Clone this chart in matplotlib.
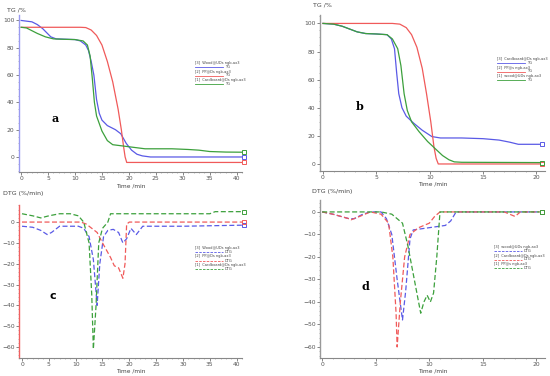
import matplotlib
matplotlib.use("Agg")
import matplotlib.pyplot as plt
from matplotlib.lines import Line2D

W, H = 550, 376

# ---------------- data ----------------
# Panel a (TG, 0-41 min)
a_wood_t = [0, 1, 2, 3, 4, 4.5, 5.5, 6.5, 8, 10, 11, 12, 12.5, 13, 13.5, 14, 14.5, 15, 16, 17.5, 18.5, 19.5, 20.5, 21.5, 22.5, 24, 30, 41]
a_wood_v = [100, 99.5, 99, 97, 94, 92, 88, 86.5, 86.3, 86, 85, 82, 78, 70, 60, 42, 32, 27, 23, 20, 17, 10, 5, 2, 0.8, 0, 0, 0]
a_pp_t = [0, 5, 11, 12, 13, 14, 15, 16, 17, 18, 18.6, 19, 19.3, 19.6, 25, 41]
a_pp_v = [95, 95, 95, 94.8, 93, 89, 82, 70, 55, 35, 20, 8, 0, -4, -4, -4]
a_card_t = [0, 1, 2, 3, 4.5, 6, 8, 10, 11.5, 12.3, 12.8, 13.2, 13.6, 14, 15, 16, 17, 19, 21, 23, 28, 31, 33, 35, 38, 41]
a_card_v = [95, 94.5, 92.5, 90.5, 88, 86.5, 86.2, 86, 85, 82, 74, 58, 40, 30, 19, 12, 9, 8, 7, 6, 6, 5.5, 5, 4, 3.6, 3.5]

# Panel b (TG, 0-20.3 min)
b_card_t = [0, 1, 1.8, 2.5, 3.2, 4, 5, 6, 6.4, 6.7, 6.9, 7.1, 7.4, 7.8, 8.5, 9.3, 10.2, 11, 13, 15, 16.5, 17.5, 18.3, 19, 20.3]
b_card_v = [100, 99.5, 98, 96, 94, 92.8, 92.5, 92, 89, 82, 65, 50, 40, 34, 29, 24, 19.5, 18.5, 18.5, 18, 17, 15.5, 14, 14, 14]
b_pp_t = [0, 5, 6.5, 7.2, 7.8, 8.3, 8.8, 9.3, 9.7, 10.1, 10.4, 10.6, 10.8, 15, 20.3]
b_pp_v = [100, 100, 100, 99.5, 97, 92, 83, 68, 50, 30, 12, 4, 0, 0, 0]
b_wood_t = [0, 1, 1.8, 2.5, 3.2, 4, 5, 6, 6.5, 7, 7.3, 7.6, 7.9, 8.3, 9, 9.8, 10.5, 11.2, 11.8, 12.3, 13, 20.3]
b_wood_v = [100, 99.5, 98, 96, 94, 92.8, 92.5, 92, 89, 82, 70, 50, 38, 30, 23, 16, 11, 6, 3, 1.5, 1.2, 1]

# Panel c (DTG, 0-41 min)
c_wood_t = [0, 2, 3.5, 4.7, 5.5, 7, 10.5, 11.5, 12.5, 13.3, 14, 14.5, 15.2, 16, 17, 18, 18.8, 19.5, 20.3, 21.3, 22.5, 30, 41]
c_wood_v = [-2, -2.5, -4, -6, -5, -2, -2, -3, -7, -18, -40, -20, -7, -4, -3.5, -5, -10, -8, -3, -6, -2, -2, -1.5]
c_pp_t = [0, 11, 12, 13, 14, 15, 16.5, 17.2, 18, 18.8, 19.2, 19.5, 20, 30, 41]
c_pp_v = [0, 0, -1, -3, -5, -10, -17, -21, -22, -27, -20, -1, 0, 0, 0]
c_card_t = [0, 2, 3.5, 5, 7, 9, 10.5, 11.5, 12.5, 13, 13.3, 13.8, 14.3, 15, 16, 16.5, 20, 30, 35, 36, 41]
c_card_v = [4, 3, 2, 3, 4, 4, 3, 0, -10, -35, -61, -40, -10, -3, 0, 4, 4, 4, 4, 5, 5]

# Panel d (DTG, 0-20.3 min)
d_wood_t = [0, 1, 2.5, 3, 3.8, 4.5, 5.5, 6, 6.5, 7, 7.5, 7.8, 8.2, 8.5, 10, 11.5, 12, 12.5, 20.3]
d_wood_v = [0, -1, -3, -3, -1, 0, 0, -3, -10, -30, -48, -35, -12, -8, -7, -6, -4, 0, 0]
d_card_t = [0, 1, 2.5, 2.7, 3.5, 4.5, 5.5, 6.2, 6.6, 6.9, 7.0, 7.3, 7.7, 8.2, 9, 10, 10.5, 11, 17, 18, 18.5, 20.3]
d_card_v = [0, -1, -3, -3.5, -2, 0, -1, -5, -20, -45, -60, -40, -20, -10, -7, -5, -2, 0, 0, -2, 0, 0]
d_pp_t = [0, 5.5, 6.5, 7.5, 8, 8.6, 9.2, 9.5, 9.8, 10.1, 10.4, 10.7, 11, 20.3]
d_pp_v = [0, 0, -1, -5, -15, -30, -45, -40, -37, -40, -36, -20, 0, 0]

BLUE = "#5a5ae6"
RED = "#f05a5a"
GREEN = "#3ca03c"

fig = plt.figure(figsize=(5.5, 3.76), dpi=100)
fig.patch.set_facecolor("white")


def make_ax(l, r, t, b, xlim, ylim, xt, yt, spine_col):
    ax = fig.add_axes([l / W, 1 - b / H, (r - l) / W, (b - t) / H])
    ax.set_xlim(*xlim)
    ax.set_ylim(*ylim)
    ax.set_xticks(xt)
    ax.set_yticks(yt)
    for s in ["top", "right"]:
        ax.spines[s].set_visible(False)
    ax.spines["left"].set_color(spine_col)
    ax.spines["bottom"].set_color("#888888")
    ax.spines["left"].set_linewidth(1.0)
    ax.spines["bottom"].set_linewidth(0.8)
    ax.tick_params(labelsize=4.3, length=2, width=0.5, colors="#555555", pad=1.2)
    ax.minorticks_on()
    ax.tick_params(which="minor", length=1, width=0.4, colors="#888888")
    return ax


def fig_text(x, y, s, **kw):
    fig.text(x / W, 1 - y / H, s, **kw)


def legend(x, y, entries, label, ls):
    for i, (name, col) in enumerate(entries):
        yy = y + i * 8.5
        fig_text(x, yy, name, fontsize=2.6, color="#444444", va="center")
        fig.add_artist(Line2D([x / W, (x + 28) / W], [1 - (yy + 4) / H] * 2, color=col,
                              lw=0.6, ls=ls, transform=fig.transFigure))
        fig_text(x + 30, yy + 4, label, fontsize=2.6, color="#444444", va="center")


def end_marker(ax, t, v, col):
    ax.plot([t[-1] + 0.01 * (ax.get_xlim()[1])], [v[-1]], marker="s", ms=3, mfc="none",
            mec=col, mew=0.7, clip_on=False)


# ---- panel a ----
ax = make_ax(19, 242, 15, 172, (-0.4, 41), (-11, 104), range(0, 41, 5), range(0, 101, 20), "#9a9af0")
for t, v, c in [(a_wood_t, a_wood_v, BLUE), (a_pp_t, a_pp_v, RED), (a_card_t, a_card_v, GREEN)]:
    ax.plot(t, v, color=c, lw=0.9)
    end_marker(ax, t, v, c)
fig_text(7, 10, "TG /%", fontsize=4.5, color="#444444", va="center")
fig_text(131, 185.5, "Time /min", fontsize=4.2, color="#444444", ha="center", va="center")
fig_text(55, 118, "a", fontsize=8, family="DejaVu Serif", weight="bold", ha="center", va="center")
legend(195, 63, [("[3]  Wood@UDs ngb-ax3", BLUE), ("[2]  PP@Ds ngb-ax3", RED),
                 ("[1]  Cardboard@Ds ngb-ax3", GREEN)], "TG", "-")

# ---- panel b ----
ax = make_ax(320, 545, 15, 171, (-0.28, 20.8), (-5, 106), range(0, 21, 5), range(0, 101, 20), "#999999")
for t, v, c in [(b_card_t, b_card_v, BLUE), (b_pp_t, b_pp_v, RED), (b_wood_t, b_wood_v, GREEN)]:
    ax.plot(t, v, color=c, lw=0.9)
    end_marker(ax, t, v, c)
fig_text(313, 5, "TG /%", fontsize=4.5, color="#444444", va="center")
fig_text(433, 184.5, "Time /min", fontsize=4.2, color="#444444", ha="center", va="center")
fig_text(360, 106, "b", fontsize=8, family="DejaVu Serif", weight="bold", ha="center", va="center")
legend(497, 59, [("[3]  Cardboard@Ds ngb-ax3", BLUE), ("[2]  PP@s ngb-ax3", RED),
                 ("[1]  wood@UDs ngb-ax3", GREEN)], "TG", "-")

# ---- panel c ----
ax = make_ax(19, 242, 205, 358, (-0.56, 41), (-65.3, 8.2), range(0, 41, 5), range(-60, 1, 10), "#f06060")
for t, v, c in [(c_wood_t, c_wood_v, BLUE), (c_pp_t, c_pp_v, RED), (c_card_t, c_card_v, GREEN)]:
    ax.plot(t, v, color=c, lw=0.9, ls=(0, (4, 2)))
    end_marker(ax, t, v, c)
fig_text(3, 194, "DTG (%/min)", fontsize=4.5, color="#444444", va="center")
fig_text(131, 371, "Time /min", fontsize=4.2, color="#444444", ha="center", va="center")
fig_text(53, 296, "c", fontsize=8, weight="bold", ha="center", va="center")
legend(195, 248, [("[3]  Wood@UDs ngb-ax3", BLUE), ("[2]  PP@Ds ngb-ax3", RED),
                  ("[1]  Cardboard@Ds ngb-ax3", GREEN)], "DTG", (0, (3, 1.5)))

# ---- panel d ----
ax = make_ax(320, 545, 200, 358, (-0.2, 20.8), (-64.9, 5.3), range(0, 21, 5), range(-60, 1, 10), "#999999")
for t, v, c in [(d_wood_t, d_wood_v, BLUE), (d_card_t, d_card_v, RED), (d_pp_t, d_pp_v, GREEN)]:
    ax.plot(t, v, color=c, lw=0.9, ls=(0, (4, 2)))
    end_marker(ax, t, v, c)
fig_text(312, 192, "DTG (%/min)", fontsize=4.5, color="#444444", va="center")
fig_text(433, 371, "Time /min", fontsize=4.2, color="#444444", ha="center", va="center")
fig_text(365, 287, "d", fontsize=8, family="DejaVu Serif", weight="bold", ha="center", va="center")
legend(494, 247, [("[3]  wood@UDs ngb-ax3", BLUE), ("[2]  Cardboard@Ds ngb-ax3", RED),
                  ("[1]  PP@s ngb-ax3", GREEN)], "DTG", (0, (3, 1.5)))

fig.savefig("out.png", dpi=100)
